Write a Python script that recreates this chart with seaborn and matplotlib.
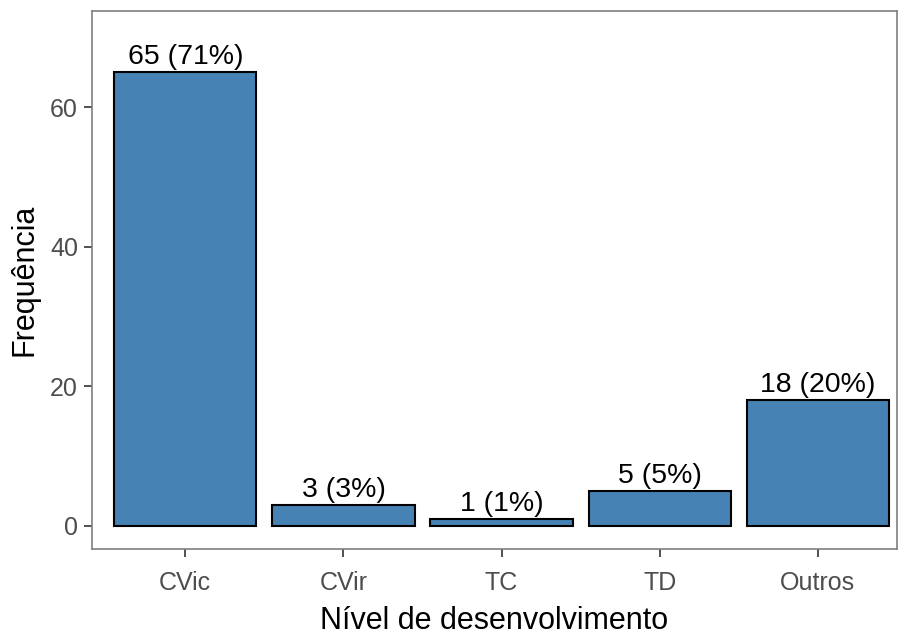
import matplotlib
matplotlib.use("Agg")
import numpy as np
import pandas as pd
import seaborn as sns
import matplotlib.pyplot as plt

categorias = ["CVic", "CVir", "TC", "TD", "Outros"]
frequencias = [65, 3, 1, 5, 18]
percentuais = [71, 3, 1, 5, 20]
yticks = [0, 20, 40, 60]

sns.set_theme(style="white")
plt.rcParams['font.family'] = ['Liberation Sans', 'DejaVu Sans']

df = pd.DataFrame({'nivel': categorias, 'freq': frequencias, 'pct': percentuais})

fig = plt.figure(figsize=(8.99, 6.35), dpi=100)
ax = fig.add_axes([92/899, 86/635, 805/899, 538/635])

sns.barplot(data=df, x='nivel', y='freq', color='#4682B4', saturation=1,
            width=0.9, edgecolor='black', linewidth=1.5, ax=ax)

# rótulos acima das barras
for i, row in df.iterrows():
    ax.annotate(f"{row['freq']} ({row['pct']}%)", (i, row['freq']),
                xytext=(0, 6), textcoords='offset points',
                ha='center', va='baseline', fontsize=20.5, color='black')

ax.set_xlim(-0.59, 4.5)
ax.set_ylim(-3.3, 73.75)
ax.set_yticks(yticks)
ax.set_xlabel('Nível de desenvolvimento', fontsize=22, color='black', labelpad=8)
ax.set_ylabel('Frequência', fontsize=22, color='black', labelpad=8)
ax.tick_params(axis='both', labelsize=18, labelcolor='#4D4D4D', color='#333333',
               length=6, width=1.2, left=True, bottom=True, pad=4)
ax.tick_params(axis='x', pad=9.5)
for s in ax.spines.values():
    s.set_color('#7F7F7F')
    s.set_linewidth(1.2)

fig.savefig('out.png', dpi=100)
